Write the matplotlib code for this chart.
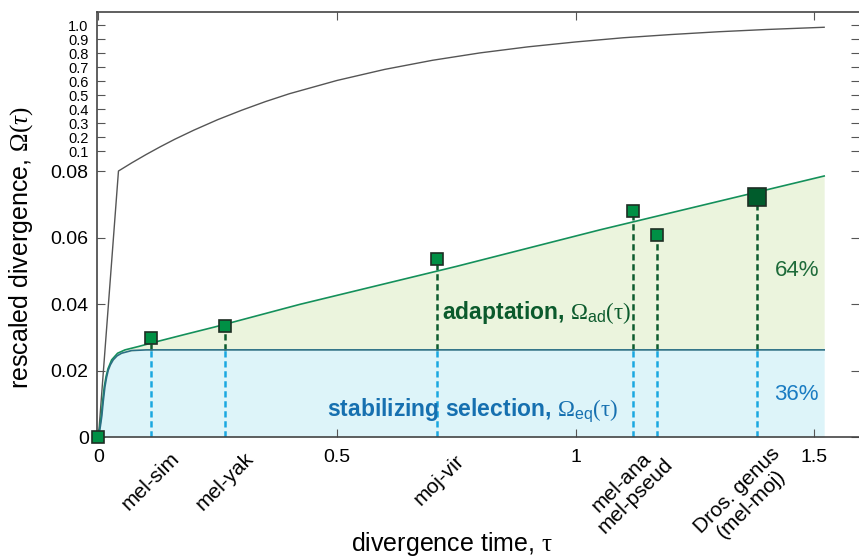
import matplotlib.pyplot as plt
import numpy as np

plt.rcParams['font.family'] = ['Liberation Sans', 'DejaVu Sans']
plt.rcParams['mathtext.fontset'] = 'custom'
plt.rcParams['mathtext.rm'] = 'Liberation Serif'
plt.rcParams['mathtext.it'] = 'Liberation Serif:italic'
plt.rcParams['mathtext.bf'] = 'Liberation Serif:bold'
plt.rcParams['mathtext.sf'] = 'Liberation Sans'

# total rescaled divergence (upper, compressed part of the axis)
tau_tot = [0, 0.042, 0.07, 0.1, 0.13, 0.16, 0.2, 0.25, 0.3, 0.35, 0.4, 0.5, 0.6,
           0.7, 0.8, 0.9, 1.0, 1.1, 1.2, 1.3, 1.4, 1.521]
om_tot = [0, 0.08, 0.0882, 0.0965, 0.131, 0.184, 0.249, 0.324, 0.391, 0.453, 0.509,
          0.604, 0.683, 0.748, 0.801, 0.844, 0.879, 0.909, 0.932, 0.952, 0.968, 0.984]

# stabilizing selection part
tau_eq = [0, 0.004, 0.007, 0.01, 0.0136, 0.017, 0.0206, 0.025, 0.031, 0.039, 0.0486,
          0.0696, 0.1, 0.2, 1.521]
om_eq = [0, 0.0032, 0.0062, 0.0106, 0.0151, 0.0179, 0.0201, 0.0217, 0.0232, 0.0244,
         0.0252, 0.0260, 0.0262, 0.0262, 0.0262]

# stabilizing + adaptation
tau_ad = [0, 0.003, 0.006, 0.009, 0.0122, 0.016, 0.02, 0.0277, 0.0402, 0.0556, 0.0835,
          0.12, 0.18, 0.244, 0.4224, 0.75, 1.051, 1.521]
om_ad = [0, 0.0032, 0.0065, 0.0110, 0.0151, 0.0182, 0.0205, 0.0232, 0.0252, 0.0262,
         0.0272, 0.0286, 0.0308, 0.0331, 0.0399, 0.0513, 0.0623, 0.0785]

# species pairs
tau_obs = [0.110, 0.265, 0.710, 1.121, 1.171, 1.380]
om_obs = [0.0298, 0.0334, 0.0535, 0.068, 0.0608, 0.0722]
pair_names = ["mel-sim", "mel-yak", "moj-vir", "mel-ana\nmel-pseud", "Dros. genus\n(mel-moj)"]

yticks = [0, 0.02, 0.04, 0.06, 0.08, 0.1, 0.2, 0.3, 0.4, 0.5, 0.6, 0.7, 0.8, 0.9, 1.0]
ylabels = ["0", "0.02", "0.04", "0.06", "0.08", "0.1", "0.2", "0.3", "0.4", "0.5",
           "0.6", "0.7", "0.8", "0.9", "1.0"]
xticks = [0, 0.5, 1, 1.5]
xlabels = ["0", "0.5", "1", "1.5"]

# piecewise y axis: linear up to 0.08, then compressed
yv = [-1, 0, 0.08, 0.1, 1.0, 2.0]
hv = [-3325, 0, 266, 286, 412, 552]
fwd = lambda y: np.interp(y, yv, hv)
inv = lambda h: np.interp(h, hv, yv)

fig = plt.figure(figsize=(8.59, 5.57), dpi=100)
ax = fig.add_axes([97 / 859, 1 - 437 / 557, 762 / 859, 425 / 557])
ax.set_yscale('function', functions=(fwd, inv))
ax.set_xlim(-0.003, 1.594)
ax.set_ylim(0, 1.093)

eq_line = np.interp(tau_ad, tau_eq, om_eq)
ax.fill_between(tau_eq, 0, om_eq, color='#ddf4f9', lw=0, zorder=1)
ax.fill_between(tau_ad, eq_line, om_ad, color='#ebf4dd', lw=0, zorder=1)

ax.plot(tau_tot, om_tot, color='#555555', lw=1.0, zorder=3)
ax.plot(tau_ad, om_ad, color='#14905a', lw=1.2, zorder=3)
ax.plot(tau_eq, om_eq, color='#2a6f86', lw=1.2, zorder=3)

for t, o in zip(tau_obs, om_obs):
    e = np.interp(t, tau_eq, om_eq)
    ax.plot([t, t], [0, e], color='#1aa7e0', lw=1.8, ls=(0, (2.5, 1.5)), zorder=2)
    ax.plot([t, t], [e, o], color='#0d5c2e', lw=1.8, ls=(0, (2.5, 1.5)), zorder=2)

ax.plot(tau_obs[:-1], om_obs[:-1], 's', ms=9, mfc='#009045', mec='#1e2e24', mew=1.2,
        ls='none', zorder=5)
ax.plot(tau_obs[-1:], om_obs[-1:], 's', ms=12.5, mfc='#005c2c', mec='#1e2e24', mew=1.2,
        ls='none', zorder=5)
ax.plot([0], [0], 's', ms=9, mfc='#009045', mec='#1e2e24', mew=1.2, ls='none',
        zorder=6, clip_on=False)

# pair labels under the axis (offsets in px)
label_x = [tau_obs[0], tau_obs[1], tau_obs[2], (tau_obs[3] + tau_obs[4]) / 2, tau_obs[5]]
label_off = [(0, -44), (0, -44), (2, -43), (-17, -52), (-13, -60)]
for name, x, (dx, dy) in zip(pair_names, label_x, label_off):
    ax.annotate(name, xy=(x, 0), xytext=(dx * 0.72, dy * 0.72), textcoords='offset points',
                rotation=45, rotation_mode='anchor', ha='center', va='center',
                multialignment='center', fontsize=15, linespacing=1.05,
                annotation_clip=False)

ax.text(0.72, 0.0375, r"adaptation, $\Omega_{\mathsf{ad}}(\mathrm{\tau})$", color='#0b5a2c',
        fontsize=16.5, fontweight='bold', ha='left', va='center', zorder=4)
ax.text(0.479, 0.0081, r"stabilizing selection, $\Omega_{\mathsf{eq}}(\mathrm{\tau})$",
        color='#1670b0', fontsize=16.5, fontweight='bold', ha='left', va='center', zorder=4)
ax.text(1.464, 0.0502, "64%", color='#1e6b3a', fontsize=16, ha='center', va='center')
ax.text(1.463, 0.0129, "36%", color='#1a7cc2', fontsize=16, ha='center', va='center')

ax.set_xticks(xticks)
ax.set_xticklabels(xlabels, fontsize=14)
ax.set_yticks(yticks)
ax.set_yticklabels(ylabels, fontsize=14)
ax.yaxis.set_minor_locator(plt.NullLocator())
for lab in ax.get_yticklabels()[5:]:
    lab.set_fontsize(10.5)
ax.tick_params(axis='x', direction='in', top=True, length=6, pad=9, color='#555555')
ax.tick_params(axis='y', direction='in', right=True, length=6, pad=6, color='#555555')

ax.spines['right'].set_visible(False)
for s in ['left', 'top', 'bottom']:
    ax.spines[s].set_color('#444444')
    ax.spines[s].set_linewidth(1.2)

fig.text(452 / 859, 6 / 557, r"divergence time, $\mathrm{\tau}$", fontsize=18,
         ha='center', va='baseline')
fig.text(21 / 859, 1 - 248 / 557, r"rescaled divergence, $\Omega(\tau)$", fontsize=18,
         rotation=90, ha='center', va='center')

fig.savefig('out.png', dpi=100)
